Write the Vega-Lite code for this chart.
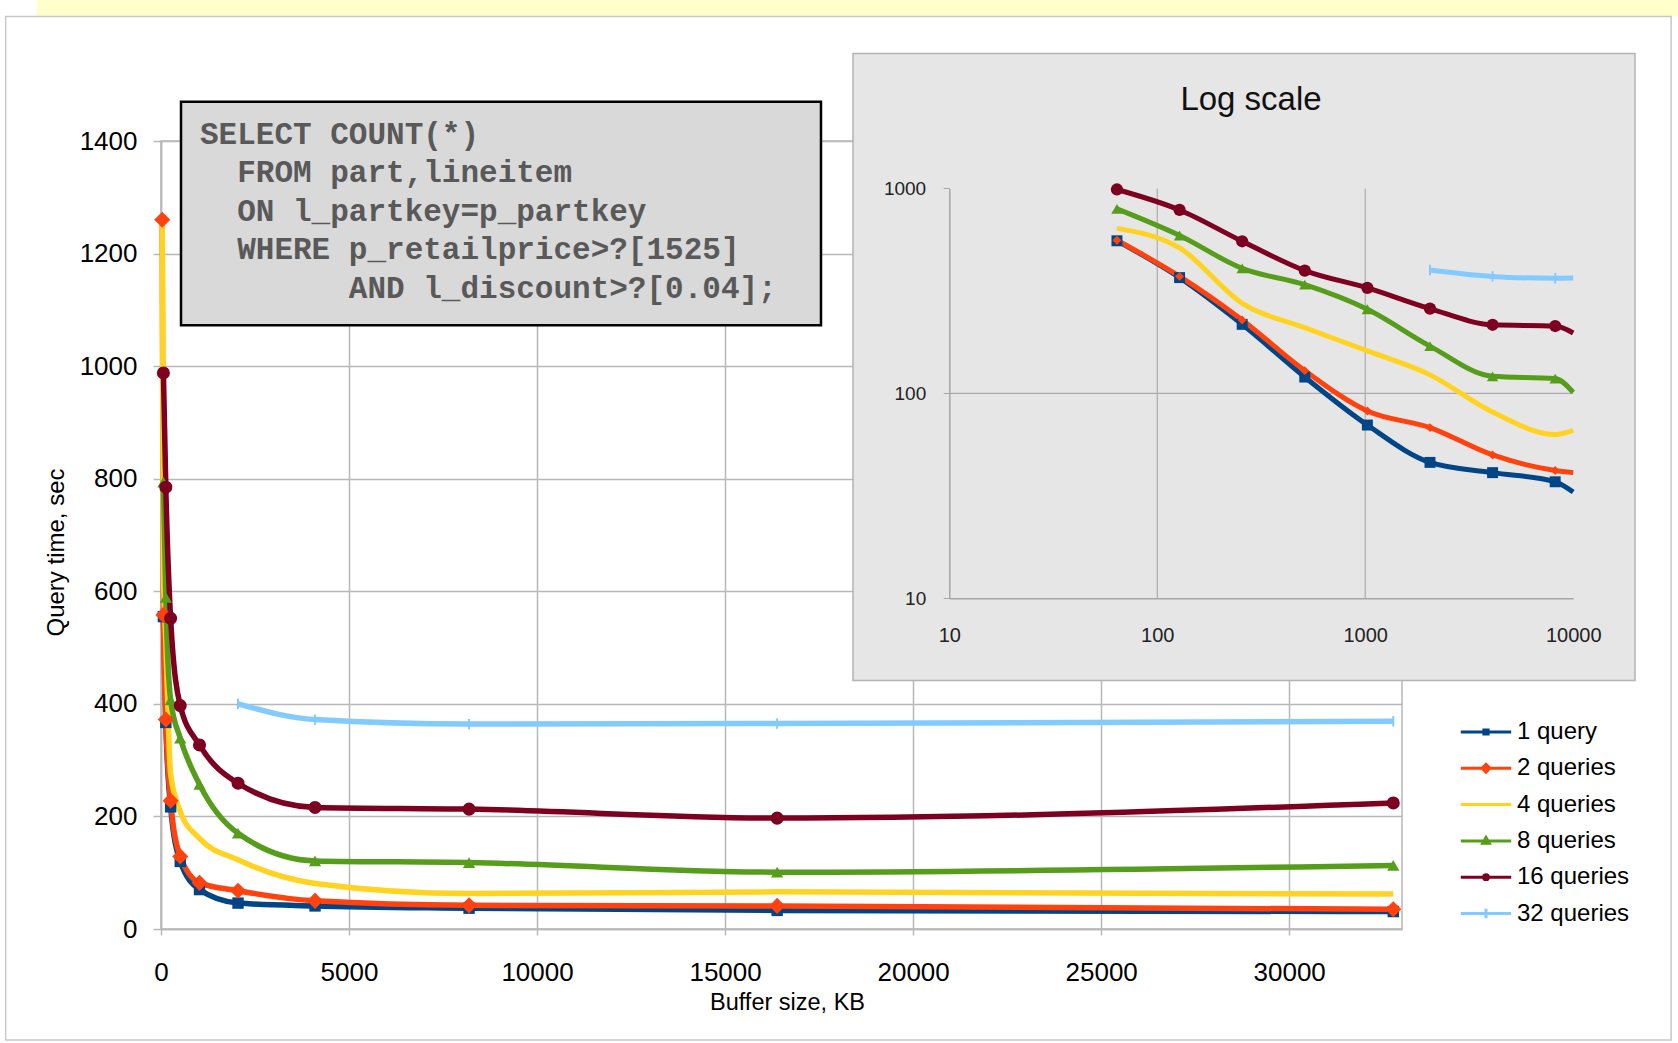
{
  "$schema": "https://vega.github.io/schema/vega-lite/v6.json",
  "width": 1241,
  "height": 788,
  "autosize": {"type": "none"},
  "padding": {"left": 161, "top": 141, "right": 276, "bottom": 114},
  "background": "white",
  "config": {"view": {"stroke": "#B8B8B8", "strokeWidth": 1.5}, "font": "Liberation Sans"},
  "datasets": {
    "q": [
      {"series": "1 query", "kb": 64, "t": 555}, {"series": "1 query", "kb": 128, "t": 367}, {"series": "1 query", "kb": 256, "t": 217}, {"series": "1 query", "kb": 512, "t": 120}, {"series": "1 query", "kb": 1024, "t": 70}, {"series": "1 query", "kb": 2048, "t": 46}, {"series": "1 query", "kb": 4096, "t": 41}, {"series": "1 query", "kb": 8192, "t": 37}, {"series": "1 query", "kb": 16384, "t": 33}, {"series": "1 query", "kb": 32768, "t": 31},
      {"series": "2 queries", "kb": 32, "t": 1260}, {"series": "2 queries", "kb": 64, "t": 558}, {"series": "2 queries", "kb": 128, "t": 372}, {"series": "2 queries", "kb": 256, "t": 228}, {"series": "2 queries", "kb": 512, "t": 129}, {"series": "2 queries", "kb": 1024, "t": 82}, {"series": "2 queries", "kb": 2048, "t": 68}, {"series": "2 queries", "kb": 4096, "t": 50}, {"series": "2 queries", "kb": 8192, "t": 42}, {"series": "2 queries", "kb": 16384, "t": 41}, {"series": "2 queries", "kb": 32768, "t": 35},
      {"series": "4 queries", "kb": 32, "t": 1268}, {"series": "4 queries", "kb": 64, "t": 638}, {"series": "4 queries", "kb": 128, "t": 512}, {"series": "4 queries", "kb": 256, "t": 275}, {"series": "4 queries", "kb": 512, "t": 209}, {"series": "4 queries", "kb": 1024, "t": 161}, {"series": "4 queries", "kb": 2048, "t": 123}, {"series": "4 queries", "kb": 4096, "t": 81}, {"series": "4 queries", "kb": 8192, "t": 63}, {"series": "4 queries", "kb": 16384, "t": 66}, {"series": "4 queries", "kb": 32768, "t": 62},
      {"series": "8 queries", "kb": 64, "t": 794}, {"series": "8 queries", "kb": 128, "t": 589}, {"series": "8 queries", "kb": 256, "t": 407}, {"series": "8 queries", "kb": 512, "t": 339}, {"series": "8 queries", "kb": 1024, "t": 257}, {"series": "8 queries", "kb": 2048, "t": 170}, {"series": "8 queries", "kb": 4096, "t": 121}, {"series": "8 queries", "kb": 8192, "t": 118}, {"series": "8 queries", "kb": 16384, "t": 101}, {"series": "8 queries", "kb": 32768, "t": 113},
      {"series": "16 queries", "kb": 64, "t": 988}, {"series": "16 queries", "kb": 128, "t": 785}, {"series": "16 queries", "kb": 256, "t": 552}, {"series": "16 queries", "kb": 512, "t": 397}, {"series": "16 queries", "kb": 1024, "t": 327}, {"series": "16 queries", "kb": 2048, "t": 259}, {"series": "16 queries", "kb": 4096, "t": 216}, {"series": "16 queries", "kb": 8192, "t": 213}, {"series": "16 queries", "kb": 16384, "t": 197}, {"series": "16 queries", "kb": 32768, "t": 224},
      {"series": "32 queries", "kb": 2048, "t": 400}, {"series": "32 queries", "kb": 4096, "t": 372}, {"series": "32 queries", "kb": 8192, "t": 364}, {"series": "32 queries", "kb": 16384, "t": 365}, {"series": "32 queries", "kb": 32768, "t": 369}
    ]
  },
  "layer": [
    {
      "data": {"values": [{}]},
      "mark": {"type": "rect", "color": "#FFFFCC"},
      "encoding": {
        "x": {"datum": -3297, "type": "quantitative", "scale": {"domain": [0, 33000], "nice": false, "zero": false}, "axis": null},
        "x2": {"datum": 40340},
        "y": {"datum": 1622, "type": "quantitative", "scale": {"domain": [0, 1400], "nice": false}, "axis": null},
        "y2": {"datum": 1720}
      }
    },
    {
      "data": {"values": [{}]},
      "mark": {"type": "rect", "filled": false, "color": "#C8C8C8", "strokeWidth": 1.5},
      "encoding": {
        "x": {"datum": -4131, "type": "quantitative", "scale": {"domain": [0, 33000], "nice": false, "zero": false}, "axis": null},
        "x2": {"datum": 40157},
        "y": {"datum": -197, "type": "quantitative", "scale": {"domain": [0, 1400], "nice": false}, "axis": null},
        "y2": {"datum": 1621}
      }
    },
    {
      "data": {"name": "q"},
      "mark": {"type": "line", "interpolate": "monotone", "strokeWidth": 5.5},
      "encoding": {
        "x": {"field": "kb", "type": "quantitative", "scale": {"domain": [0, 33000], "nice": false, "zero": false},
          "axis": {"orient": "bottom", "values": [0, 5000, 10000, 15000, 20000, 25000, 30000], "format": "d", "labelFlush": false, "grid": true, "gridColor": "#B8B8B8", "gridWidth": 1.5, "domainColor": "#B8B8B8", "domainWidth": 1.5, "tickColor": "#B8B8B8", "tickSize": 6, "tickWidth": 1.5, "labelFont": "Liberation Sans", "labelFontSize": 26, "labelColor": "#000000", "labelPadding": 24, "title": "Buffer size, KB", "titleFont": "Liberation Sans", "titleFontSize": 23.5, "titleFontWeight": "normal", "titleColor": "#000000", "titleX": 626, "titleY": 73, "titleAlign": "center", "titleBaseline": "middle"}},
        "y": {"field": "t", "type": "quantitative", "scale": {"domain": [0, 1400], "nice": false},
          "axis": {"orient": "left", "values": [0, 200, 400, 600, 800, 1000, 1200, 1400], "format": "d", "labelFlush": false, "grid": true, "gridColor": "#B8B8B8", "gridWidth": 1.5, "domainColor": "#B8B8B8", "domainWidth": 1.5, "tickColor": "#B8B8B8", "tickSize": 8, "tickWidth": 1.5, "labelFont": "Liberation Sans", "labelFontSize": 26, "labelColor": "#000000", "labelPadding": 16, "title": "Query time, sec", "titleFont": "Liberation Sans", "titleFontSize": 24, "titleFontWeight": "normal", "titleColor": "#000000", "titleX": -105, "titleY": 411, "titleAngle": 270, "titleAlign": "center", "titleBaseline": "middle"}},
        "color": {"field": "series", "type": "nominal", "scale": {"domain": ["1 query", "2 queries", "4 queries", "8 queries", "16 queries", "32 queries"], "range": ["#004586", "#ff420e", "#ffd320", "#579d1c", "#7e0021", "#83caff"]},
          "legend": {"orient": "none", "legendX": 1313, "legendY": 579, "title": null, "symbolSize": 144, "symbolStrokeWidth": 3, "symbolOpacity": 1, "labelFont": "Liberation Sans", "labelFontSize": 24, "labelColor": "#000000", "labelOffset": 19, "rowPadding": 12.3}}
      }
    },
    {
      "data": {"name": "q"},
      "transform": [{"filter": "datum.series === '1 query'"}],
      "mark": {"type": "point", "shape": "square", "filled": true, "size": 130, "opacity": 1, "color": "#004586"},
      "encoding": {
        "x": {"field": "kb", "type": "quantitative", "scale": {"domain": [0, 33000], "nice": false, "zero": false}, "axis": null},
        "y": {"field": "t", "type": "quantitative", "scale": {"domain": [0, 1400], "nice": false}, "axis": null}
      }
    },
    {
      "data": {"name": "q"},
      "transform": [{"filter": "datum.series === '2 queries'"}],
      "mark": {"type": "point", "shape": "diamond", "filled": true, "size": 260, "opacity": 1, "color": "#ff420e"},
      "encoding": {
        "x": {"field": "kb", "type": "quantitative", "scale": {"domain": [0, 33000], "nice": false, "zero": false}, "axis": null},
        "y": {"field": "t", "type": "quantitative", "scale": {"domain": [0, 1400], "nice": false}, "axis": null}
      }
    },
    {
      "data": {"name": "q"},
      "transform": [{"filter": "datum.series === '8 queries'"}],
      "mark": {"type": "point", "shape": "triangle-up", "filled": true, "size": 150, "opacity": 1, "color": "#579d1c"},
      "encoding": {
        "x": {"field": "kb", "type": "quantitative", "scale": {"domain": [0, 33000], "nice": false, "zero": false}, "axis": null},
        "y": {"field": "t", "type": "quantitative", "scale": {"domain": [0, 1400], "nice": false}, "axis": null}
      }
    },
    {
      "data": {"name": "q"},
      "transform": [{"filter": "datum.series === '16 queries'"}],
      "mark": {"type": "point", "shape": "circle", "filled": true, "size": 170, "opacity": 1, "color": "#7e0021"},
      "encoding": {
        "x": {"field": "kb", "type": "quantitative", "scale": {"domain": [0, 33000], "nice": false, "zero": false}, "axis": null},
        "y": {"field": "t", "type": "quantitative", "scale": {"domain": [0, 1400], "nice": false}, "axis": null}
      }
    },
    {
      "data": {"name": "q"},
      "transform": [{"filter": "datum.series === '32 queries'"}],
      "mark": {"type": "point", "shape": "M0,-1V1", "filled": false, "size": 110, "strokeWidth": 2, "opacity": 1, "color": "#83caff"},
      "encoding": {
        "x": {"field": "kb", "type": "quantitative", "scale": {"domain": [0, 33000], "nice": false, "zero": false}, "axis": null},
        "y": {"field": "t", "type": "quantitative", "scale": {"domain": [0, 1400], "nice": false}, "axis": null}
      }
    },
    {
      "data": {"values": [{}]},
      "mark": {"type": "rect", "fill": "#D9D9D9", "stroke": "#000000", "strokeWidth": 2.5},
      "encoding": {
        "x": {"datum": 532, "type": "quantitative", "scale": {"domain": [0, 33000], "nice": false, "zero": false}, "axis": null},
        "x2": {"datum": 17550},
        "y": {"datum": 1072.6, "type": "quantitative", "scale": {"domain": [0, 1400], "nice": false}, "axis": null},
        "y2": {"datum": 1469.8}
      }
    },
    {
      "data": {"values": [{}]},
      "mark": {"type": "text", "font": "Liberation Mono", "fontWeight": "bold", "fontSize": 31, "color": "#595959", "align": "left", "baseline": "alphabetic", "lineHeight": 38.5},
      "encoding": {
        "x": {"datum": 1037, "type": "quantitative", "scale": {"domain": [0, 33000], "nice": false, "zero": false}, "axis": null},
        "y": {"datum": 1394.7, "type": "quantitative", "scale": {"domain": [0, 1400], "nice": false}, "axis": null},
        "text": {"value": ["SELECT COUNT(*)", "\u200b\u00a0\u00a0FROM part,lineitem", "\u200b\u00a0\u00a0ON l_partkey=p_partkey", "\u200b\u00a0\u00a0WHERE p_retailprice>?[1525]", "\u200b\u00a0\u00a0\u00a0\u00a0\u00a0\u00a0\u00a0\u00a0AND l_discount>?[0.04];"]}
      }
    },
    {
      "data": {"values": [{}]},
      "mark": {"type": "rect", "fill": "#E6E6E6", "stroke": "#B3B3B3", "strokeWidth": 1.5},
      "encoding": {
        "x": {"datum": 18401, "type": "quantitative", "scale": {"domain": [0, 33000], "nice": false, "zero": false}, "axis": null},
        "x2": {"datum": 39196},
        "y": {"datum": 441.3, "type": "quantitative", "scale": {"domain": [0, 1400], "nice": false}, "axis": null},
        "y2": {"datum": 1555.5}
      }
    },
    {
      "data": {"values": [{}]},
      "mark": {"type": "text", "font": "Liberation Sans", "fontSize": 33, "color": "#111111", "align": "center", "baseline": "middle"},
      "encoding": {
        "x": {"datum": 28985, "type": "quantitative", "scale": {"domain": [0, 33000], "nice": false, "zero": false}, "axis": null},
        "y": {"datum": 1473.7, "type": "quantitative", "scale": {"domain": [0, 1400], "nice": false}, "axis": null},
        "text": {"value": "Log scale"}
      }
    },
    {
      "data": {"values": [{"g": 100}, {"g": 1000}]},
      "mark": {"type": "rule", "color": "#ABABAB", "strokeWidth": 1.2},
      "encoding": {
        "x": {"field": "g", "type": "quantitative", "scale": {"type": "log", "domain": [10, 10000], "range": [788.3, 1412.2], "clamp": true}, "axis": null},
        "y": {"datum": 10, "type": "quantitative", "scale": {"type": "log", "domain": [10, 1000], "range": [457.2, 47.4]}, "axis": null},
        "y2": {"datum": 1000}
      }
    },
    {
      "data": {"values": [{"g": 100}]},
      "mark": {"type": "rule", "color": "#ABABAB", "strokeWidth": 1.2},
      "encoding": {
        "y": {"field": "g", "type": "quantitative", "scale": {"type": "log", "domain": [10, 1000], "range": [457.2, 47.4]}, "axis": null},
        "x": {"datum": 10, "type": "quantitative", "scale": {"type": "log", "domain": [10, 10000], "range": [788.3, 1412.2], "clamp": true}, "axis": null},
        "x2": {"datum": 10000}
      }
    },
    {
      "data": {"name": "q"},
      "transform": [{"filter": "datum.kb >= 64 && datum.kb <= 16384"}],
      "mark": {"type": "line", "interpolate": "monotone", "strokeWidth": 5},
      "encoding": {
        "x": {"field": "kb", "type": "quantitative", "scale": {"type": "log", "domain": [10, 10000], "range": [788.3, 1412.2], "clamp": true},
          "axis": {"orient": "bottom", "offset": -330.8, "values": [10, 100, 1000, 10000], "format": "d", "labelFlush": false, "grid": false, "domainColor": "#A6A6A6", "domainWidth": 1.5, "ticks": false, "tickSize": 0, "labelFont": "Liberation Sans", "labelFontSize": 20, "labelColor": "#222222", "labelPadding": 27, "title": null, "zindex": 1}},
        "y": {"field": "t", "type": "quantitative", "scale": {"type": "log", "domain": [10, 1000], "range": [457.2, 47.4]},
          "axis": {"orient": "left", "offset": -788.3, "values": [10, 100, 1000], "format": "d", "labelFlush": false, "grid": false, "domainColor": "#A6A6A6", "domainWidth": 1.5, "tickColor": "#A6A6A6", "tickSize": 6, "labelFont": "Liberation Sans", "labelFontSize": 19, "labelColor": "#222222", "labelPadding": 17.6, "title": null, "zindex": 1}},
        "color": {"field": "series", "type": "nominal", "scale": {"domain": ["1 query", "2 queries", "4 queries", "8 queries", "16 queries", "32 queries"], "range": ["#004586", "#ff420e", "#ffd320", "#579d1c", "#7e0021", "#83caff"]}}
      }
    },
    {
      "data": {"name": "q"},
      "transform": [{"filter": "datum.series === '1 query' && datum.kb >= 64 && datum.kb <= 8192"}],
      "mark": {"type": "point", "shape": "square", "filled": true, "size": 120, "opacity": 1, "color": "#004586"},
      "encoding": {
        "x": {"field": "kb", "type": "quantitative", "scale": {"type": "log", "domain": [10, 10000], "range": [788.3, 1412.2], "clamp": true}, "axis": null},
        "y": {"field": "t", "type": "quantitative", "scale": {"type": "log", "domain": [10, 1000], "range": [457.2, 47.4]}, "axis": null}
      }
    },
    {
      "data": {"name": "q"},
      "transform": [{"filter": "datum.series === '2 queries' && datum.kb >= 64 && datum.kb <= 8192"}],
      "mark": {"type": "point", "shape": "diamond", "filled": true, "size": 80, "opacity": 1, "color": "#ff420e"},
      "encoding": {
        "x": {"field": "kb", "type": "quantitative", "scale": {"type": "log", "domain": [10, 10000], "range": [788.3, 1412.2], "clamp": true}, "axis": null},
        "y": {"field": "t", "type": "quantitative", "scale": {"type": "log", "domain": [10, 1000], "range": [457.2, 47.4]}, "axis": null}
      }
    },
    {
      "data": {"name": "q"},
      "transform": [{"filter": "datum.series === '8 queries' && datum.kb >= 64 && datum.kb <= 8192"}],
      "mark": {"type": "point", "shape": "triangle-up", "filled": true, "size": 130, "opacity": 1, "color": "#579d1c"},
      "encoding": {
        "x": {"field": "kb", "type": "quantitative", "scale": {"type": "log", "domain": [10, 10000], "range": [788.3, 1412.2], "clamp": true}, "axis": null},
        "y": {"field": "t", "type": "quantitative", "scale": {"type": "log", "domain": [10, 1000], "range": [457.2, 47.4]}, "axis": null}
      }
    },
    {
      "data": {"name": "q"},
      "transform": [{"filter": "datum.series === '16 queries' && datum.kb >= 64 && datum.kb <= 8192"}],
      "mark": {"type": "point", "shape": "circle", "filled": true, "size": 150, "opacity": 1, "color": "#7e0021"},
      "encoding": {
        "x": {"field": "kb", "type": "quantitative", "scale": {"type": "log", "domain": [10, 10000], "range": [788.3, 1412.2], "clamp": true}, "axis": null},
        "y": {"field": "t", "type": "quantitative", "scale": {"type": "log", "domain": [10, 1000], "range": [457.2, 47.4]}, "axis": null}
      }
    },
    {
      "data": {"name": "q"},
      "transform": [{"filter": "datum.series === '32 queries' && datum.kb >= 64 && datum.kb <= 8192"}],
      "mark": {"type": "point", "shape": "M0,-1V1", "filled": false, "size": 110, "strokeWidth": 2, "opacity": 1, "color": "#83caff"},
      "encoding": {
        "x": {"field": "kb", "type": "quantitative", "scale": {"type": "log", "domain": [10, 10000], "range": [788.3, 1412.2], "clamp": true}, "axis": null},
        "y": {"field": "t", "type": "quantitative", "scale": {"type": "log", "domain": [10, 1000], "range": [457.2, 47.4]}, "axis": null}
      }
    },
    {
      "data": {"name": "q"},
      "transform": [{"filter": "datum.kb === 2048"}],
      "mark": {"type": "point", "filled": false, "strokeWidth": 3, "size": 144, "clip": true},
      "encoding": {
        "x": {"datum": -9000, "type": "quantitative", "scale": {"domain": [0, 33000], "nice": false, "zero": false}, "axis": null},
        "y": {"datum": -900, "type": "quantitative", "scale": {"domain": [0, 1400], "nice": false}, "axis": null},
        "shape": {
          "field": "series", "type": "nominal",
          "scale": {
            "domain": ["1 query", "2 queries", "4 queries", "8 queries", "16 queries", "32 queries"],
            "range": [
              "M-4.2,0H4.2M-0.35,-0.35H0.35V0.35H-0.35Z",
              "M-4.2,0H4.2M0,-0.65L0.65,0L0,0.65L-0.65,0Z",
              "M-4.2,0H4.2",
              "M-4.2,0H4.2M0,-0.55L0.55,0.4H-0.55Z",
              "M-4.2,0H4.2M-0.4,0A0.4,0.4,0,1,1,0.4,0A0.4,0.4,0,1,1,-0.4,0Z",
              "M-4.2,0H4.2M0,-0.8V0.8"
            ]
          },
          "legend": {"orient": "none", "legendX": 1313, "legendY": 579, "title": null, "symbolSize": 144, "symbolStrokeWidth": 3, "symbolOpacity": 1, "labelFont": "Liberation Sans", "labelFontSize": 24, "labelColor": "#000000", "labelOffset": 19, "rowPadding": 12.3}
        }
      }
    }
  ],
  "resolve": {"scale": {"x": "independent", "y": "independent"}}
}
